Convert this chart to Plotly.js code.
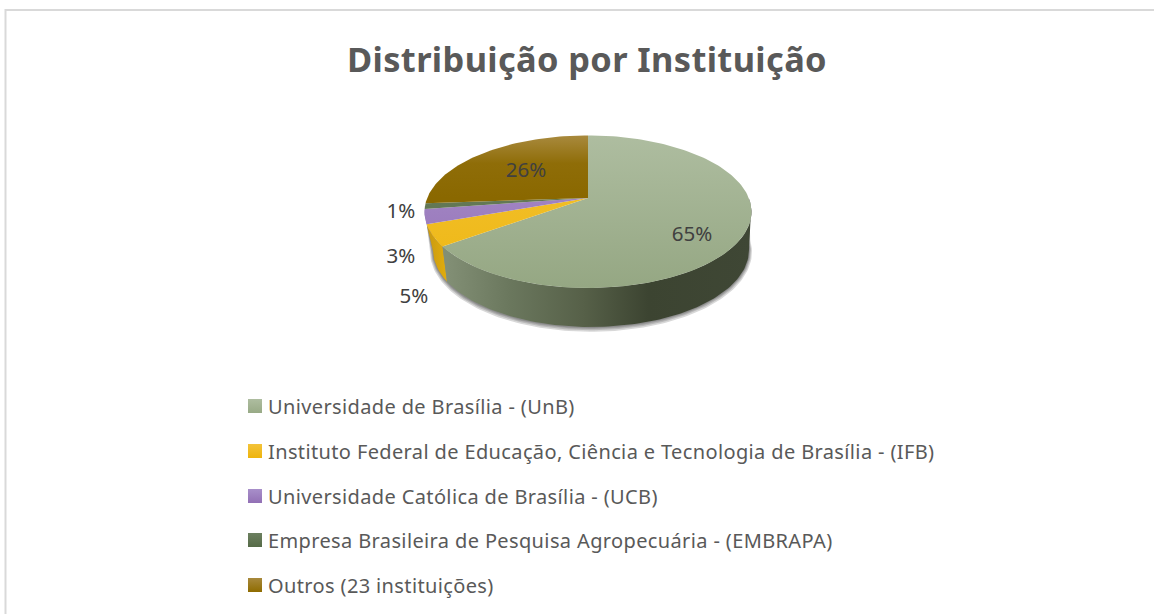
<!DOCTYPE html>
<html><head><meta charset="utf-8">
<script src="https://cdn.plot.ly/plotly-3.0.1.min.js"></script>
<style>html,body{margin:0;padding:0;background:#fff}#chart{width:1154px;height:614px}
.annotation-text{letter-spacing:.37px}</style>
</head><body><div id="chart"></div>
<script>
// ---- data ----
var chartTitle = 'Distribuição por Instituição';
var institutions = [
  'Universidade de Brasília - (UnB)',
  'Instituto Federal de Educação, Ciência e Tecnologia de Brasília - (IFB)',
  'Universidade Católica de Brasília - (UCB)',
  'Empresa Brasileira de Pesquisa Agropecuária - (EMBRAPA)',
  'Outros (23 instituições)'
];
var shares = [65, 4.6, 3.1, 1.2, 26.1];

// ---- styles ----
var TEXT = '#595959', LABEL = '#404040';
var FONT = '"Noto Sans", "Open Sans", sans-serif';
var topGradients = [
  [[0,'#aebda0'],[1,'#95a783']],
  [[0,'#f3c232'],[1,'#eeb713']],
  [[0,'#a88fca'],[1,'#9471b6']],
  [[0,'#6a7f5c'],[1,'#5a6f4b']],
  [[0,'#a98a3e'],[0.45,'#8f6d08'],[1,'#8a6800']]
];
var legendGradients = [
  ['#aebda0','#98aa86'], ['#f3c33a','#eeb40c'], ['#a88fca','#9270b5'], ['#6c8060','#566b47'], ['#a8893c','#8f6c00']
];

// ---- projection of the pie (a unit circle seen in perspective) ----
var C = {x:588, y:198, A:160.8, B:73.8, k:0.18};
var W = {x:591, y:250, rx:158, ry:77, shift:11.7};
function topPoint(deg){
  var t = deg*Math.PI/180, X = Math.sin(t), Y = Math.cos(t), w = 1 + C.k*Y;
  return [C.x + C.A*X/w, C.y - C.B*Y/w];
}
function basePoint(deg, grow){
  var t = (deg + W.shift)*Math.PI/180, g = grow || 0;
  return [W.x + (W.rx+g)*Math.sin(t), W.y + g*0.6 - (W.ry+g)*Math.cos(t)];
}
function arc(fn, a, b, grow){
  var n = Math.max(2, Math.ceil(Math.abs(b-a)/1.5)), out = [];
  for (var i=0;i<=n;i++) out.push(fn(a+(b-a)*i/n, grow));
  return out;
}
function poly(points, extra){
  var tr = {x:points.map(function(p){return p[0];}), y:points.map(function(p){return p[1];}),
    mode:'lines', fill:'toself', line:{width:0}, hoverinfo:'skip', showlegend:false};
  for (var k in extra) tr[k]=extra[k];
  return tr;
}

var total = shares.reduce(function(a,b){return a+b;},0);
var bounds = [0];
shares.forEach(function(v,i){ bounds.push(bounds[i] + v/total*360); });

var traces = [];

// soft shadow under the wall
[3,2,1.2,0.6].forEach(function(g){
  traces.push(poly(arc(basePoint, 70, bounds[2]+8, g).concat(arc(topPoint, bounds[2], 90)),
    {fillcolor:'rgba(60,60,60,0.2)'}));
});

// side wall, drawn back to front
var wallEnd = 97;
traces.push(poly(arc(topPoint, bounds[2], bounds[3]).concat(arc(basePoint, bounds[2]+8, bounds[2]+22)),
  {fillcolor:'#8d76ab'}));
traces.push(poly(arc(topPoint, bounds[1], bounds[2]).concat(arc(basePoint, bounds[2]+7, bounds[1])),
  {fillcolor:'#dca80e', fillgradient:{type:'horizontal', start:428, stop:447,
    colorscale:[[0,'#c99a12'],[1,'#e2ad0c']]}}));
traces.push(poly(arc(topPoint, wallEnd, bounds[1]).concat(arc(basePoint, bounds[1], 78.3)),
  {fillgradient:{type:'horizontal', start:447, stop:752,
    colorscale:[[0,'#828f75'],[0.2,'#6b785e'],[0.45,'#566048'],[0.66,'#3c4431'],[1,'#3f4735']]}}));

// top faces
shares.forEach(function(v,i){
  var pts = [[C.x,C.y]].concat(arc(topPoint, bounds[i], bounds[i+1]));
  traces.push(poly(pts.concat([[C.x,C.y]]), {
    fillgradient:{type:'vertical', start:135, stop:288, colorscale:topGradients[i]}
  }));
});
// the brown slice fades over its own height
traces[traces.length-1].fillgradient = {type:'vertical', start:135, stop:198, colorscale:topGradients[4]};

// percentage labels
var labelPos = [[692,236],[414,298],[401,258],[401,213],[526,172]];
traces.push({x:labelPos.map(function(p){return p[0];}), y:labelPos.map(function(p){return p[1];}),
  mode:'text', text:shares.map(function(v){return Math.round(v)+'%';}), textposition:'middle center',
  textfont:{family:FONT, size:20.5, color:LABEL}, hoverinfo:'skip', showlegend:false});

// legend rows
var rowY = [406,451,496,540,585];
institutions.forEach(function(name,i){
  traces.push({x:[255], y:[rowY[i]], mode:'markers', hoverinfo:'skip', showlegend:false,
    marker:{symbol:'square', size:14, color:legendGradients[i][0], line:{width:0},
            gradient:{type:'vertical', color:legendGradients[i][1]}}});
});

var annotations = institutions.map(function(name,i){
  return {x:268, y:rowY[i], xref:'x', yref:'y', text:name, showarrow:false, xanchor:'left', yanchor:'middle',
    xshift:-2, font:{family:FONT, size:20, color:TEXT}};
});
annotations.push({x:586.5, y:58, xref:'x', yref:'y', text:chartTitle, showarrow:false, xanchor:'center', yanchor:'middle',
  font:{family:FONT, size:34.4, color:TEXT, weight:700}});

var layout = {
  width:1154, height:614, margin:{l:0,r:0,t:0,b:0}, paper_bgcolor:'#fff', plot_bgcolor:'#fff', showlegend:false,
  xaxis:{range:[0,1154], visible:false, fixedrange:true},
  yaxis:{range:[614,0], visible:false, fixedrange:true},
  annotations:annotations,
  shapes:[{type:'rect', xref:'x', yref:'y', x0:5.5, y0:10, x1:1170, y1:640, line:{color:'#d9d9d9', width:2}, fillcolor:'rgba(0,0,0,0)', layer:'below'}]
};
Plotly.newPlot('chart', traces, layout, {displayModeBar:false, staticPlot:true});
</script></body></html>
